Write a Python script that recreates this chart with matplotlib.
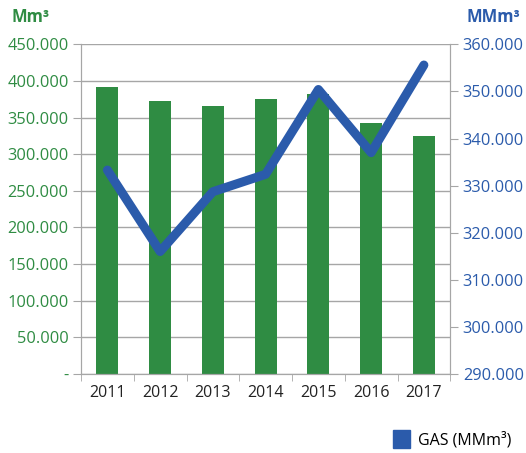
import numpy as np
import matplotlib.pyplot as plt
from matplotlib.ticker import FuncFormatter

plt.rcParams['font.family'] = ['Open Sans', 'DejaVu Sans']

years = ['2011', '2012', '2013', '2014', '2015', '2016', '2017']
mm3 = [392000, 373000, 366000, 376000, 381500, 343000, 325000]
gas_mmm3 = [333.3, 316.0, 328.7, 332.4, 350.4, 337.0, 355.6]

green = '#2f8c43'
blue = '#2b5bab'
grey = '#a6a6a6'

fig = plt.figure(figsize=(5.26, 4.53), dpi=100)
ax = fig.add_axes([0.154, 0.1744, 0.702, 0.7278])
x = np.arange(len(years))

ax.bar(x, mm3, width=0.42, color=green, zorder=2)
ax.set_ylim(0, 450000)
ax.set_yticks(np.arange(0, 450001, 50000))
ax.yaxis.set_major_formatter(FuncFormatter(
    lambda v, p: '-' if v == 0 else f'{v/1000:.3f}'))
ax.set_xlim(-0.5, len(years) - 0.5)
ax.set_xticks(x)
ax.set_xticklabels(years)
ax.set_xticks(np.arange(-0.5, len(years), 1), minor=True)
ax.tick_params(axis='x', which='major', length=0, labelsize=11.5, colors='#222222', pad=8)
ax.tick_params(axis='x', which='minor', length=5, color=grey)
ax.tick_params(axis='y', length=6, color=grey, labelcolor=green, labelsize=11.8, pad=3)
ax.grid(axis='y', color=grey, lw=1, zorder=0)
for s in ['left', 'bottom', 'right']:
    ax.spines[s].set_color(grey)
ax.spines['top'].set_visible(False)

ax2 = ax.twinx()
ax2.plot(x, gas_mmm3, color=blue, lw=6.5, solid_capstyle='round',
         solid_joinstyle='round', label='GAS (MMm³)', zorder=3)
ax2.set_ylim(290, 360)
ax2.set_yticks(np.arange(290, 361, 10))
ax2.yaxis.set_major_formatter(FuncFormatter(lambda v, p: f'{v:.3f}'))
ax2.tick_params(axis='y', length=6, color=grey, labelcolor=blue, labelsize=11.8, pad=3)
for s in ['left', 'bottom', 'right']:
    ax2.spines[s].set_color(grey)
ax2.spines['top'].set_visible(False)

fig.text(0.022, 0.963, 'Mm³', color=green, fontsize=12, fontweight='bold', va='center')
fig.text(0.99, 0.963, 'MMm³', color=blue, fontsize=12, fontweight='bold', va='center', ha='right')

handle = plt.Rectangle((0, 0), 1, 1, color=blue)
fig.legend([handle], ['GAS (MMm³)'], loc='center right', bbox_to_anchor=(1.0, 0.03),
           frameon=False, fontsize=11.5, handlelength=1.1, handleheight=1.3,
           handletextpad=0.5)

fig.savefig('out.png', dpi=100)
